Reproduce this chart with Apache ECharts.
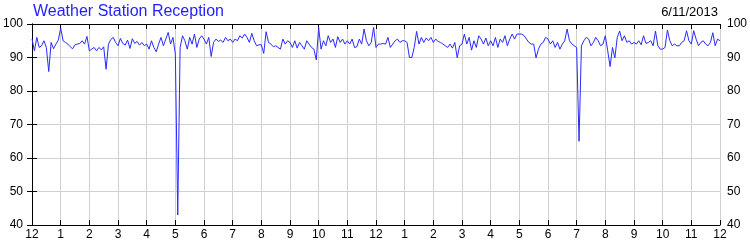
<!DOCTYPE html>
<html><head><meta charset="utf-8">
<script src="https://cdn.jsdelivr.net/npm/echarts@6/dist/echarts.min.js"></script>
<style>html,body{margin:0;padding:0;background:#fff}#c{width:750px;height:250px}</style>
</head><body><div id="c"></div>
<script>
// Reception % sampled every 5 minutes (12 per hour), midnight to midnight
const h00 = [95.5, 92, 96, 93, 93.5, 95, 93, 85.8, 94.5, 92.6, 94, 95.2];
const h01 = [98.8, 95, 94.5, 94, 93.2, 92.6, 93.8, 94, 94.2, 95, 94, 96.3];
const h02 = [92, 92.5, 93, 92, 93, 92.3, 93.2, 86.5, 94, 95.4, 96, 94.5];
const h03 = [93.5, 95.7, 94.2, 93.7, 95.2, 92.7, 95.6, 94.2, 94.8, 93.7, 94.5, 93.5];
const h04 = [94, 92.5, 95, 93, 91.7, 94, 96, 93.5, 95.5, 97.5, 94, 96];
const h05 = [91, 43, 93, 96.5, 95, 92.5, 96, 94, 97, 93, 95.5, 96.5];
const h06 = [95.5, 94, 96, 90.3, 94.5, 95.5, 94.8, 95.2, 94.5, 96, 95, 95.5];
const h07 = [94.5, 95.5, 95, 96.5, 95.8, 97, 96, 94.5, 97.2, 95, 93.5, 93.8];
const h08 = [93.8, 91.2, 97.7, 94.5, 94, 93.2, 93.5, 93, 92.5, 95.5, 94, 95];
const h09 = [94.5, 93, 95, 92.8, 94.5, 93.5, 92.5, 95, 94, 93, 92.5, 89.3];
const h10 = [98.9, 92.5, 95, 93.5, 96.5, 94.5, 95.5, 93, 96.2, 94.5, 95.5, 94];
const h11 = [95, 94, 95.5, 93, 93.2, 95.5, 94, 98.5, 95, 93.5, 94.5, 99];
const h12 = [93, 94, 94, 94.2, 94, 96, 93, 94, 95, 95.5, 94.5, 95];
const h13 = [95, 94.5, 90, 90, 93, 97.8, 94, 96, 94.5, 95.8, 95, 96];
const h14 = [94.5, 95.5, 94.8, 94.5, 94, 93.5, 93, 94, 92.8, 94.5, 89.9, 93.5];
const h15 = [94, 97, 94, 96, 92.2, 95, 93, 96.5, 95.5, 94, 95.8, 93.5];
const h16 = [95, 93.5, 96, 93, 95.5, 94.5, 96.5, 93.5, 95.5, 97, 95.5, 97];
const h17 = [97, 97, 96.5, 95.5, 94.5, 94, 94, 89.9, 92.5, 94, 94.5, 96];
const h18 = [95.5, 94, 95, 93, 94.5, 92.5, 94, 95, 98.5, 95, 94, 93.5];
const h19 = [93, 65, 93.5, 95, 96, 95.5, 93.5, 94.5, 96, 95, 93.5, 94];
const h20 = [96.5, 92, 87.3, 93, 89.9, 96, 97.9, 95, 96.5, 94.5, 95, 94];
const h21 = [94.5, 94, 95, 93.8, 96.5, 94.2, 94.5, 95, 93.5, 97.9, 93.5, 92.5];
const h22 = [92.5, 93, 98.2, 95, 93.5, 94, 93.5, 93.5, 94.5, 95, 98, 95];
const h23 = [94, 98, 95.5, 93.5, 94.5, 95, 94, 93.5, 94.5, 97.4, 93.5, 95.5];
const endValue = [95];

const hourLabels = ['12','1','2','3','4','5','6','7','8','9','10','11','12','1','2','3','4','5','6','7','8','9','10','11','12'];
const yTicks = [40, 50, 60, 70, 80, 90, 100];
const titleText = 'Weather Station Reception';
const dateText = '6/11/2013';

const values = [].concat(h00,h01,h02,h03,h04,h05,h06,h07,h08,h09,h10,h11,h12,h13,h14,h15,h16,h17,h18,h19,h20,h21,h22,h23,endValue);
const points = values.map((v, i) => [i * 5 / 60, v]);

const font = 'Liberation Sans, Arial, sans-serif';
const axisCommon = {
  axisLine: { show: true, lineStyle: { color: '#000', width: 1 } },
  axisTick: { show: true, inside: true, length: 5, lineStyle: { color: '#000' } },
};
const chart = echarts.init(document.getElementById('c'), null, { renderer: 'canvas' });
chart.setOption({
  animation: false,
  backgroundColor: '#fff',
  title: [
    { text: titleText, left: 33, top: 4, padding: 0, textStyle: { fontFamily: font, fontSize: 16, fontWeight: 'normal', color: '#1f1fff' } },
    { text: dateText, right: 32, top: 6, padding: 0, textStyle: { fontFamily: font, fontSize: 13, fontWeight: 'normal', color: '#000' } }
  ],
  grid: { left: 31, right: 30, top: 24, bottom: 25, containLabel: false },
  xAxis: [
    Object.assign({}, axisCommon, {
      type: 'value', min: 0, max: 24, interval: 1, position: 'bottom',
      axisLabel: { show: true, margin: 4, color: '#000', fontFamily: font, fontSize: 12, showMinLabel: true, showMaxLabel: true,
        formatter: v => hourLabels[Math.round(v)] },
      splitLine: { show: true, lineStyle: { color: '#d0d0d0', width: 1 } }
    }),
    Object.assign({}, axisCommon, {
      type: 'value', min: 0, max: 24, interval: 1, position: 'top',
      axisLabel: { show: false }, splitLine: { show: false }
    })
  ],
  yAxis: [
    Object.assign({}, axisCommon, {
      type: 'value', min: yTicks[0], max: yTicks[yTicks.length - 1], interval: 10, position: 'left',
      axisLabel: { margin: 9, color: '#000', fontFamily: font, fontSize: 12 },
      splitLine: { show: true, lineStyle: { color: '#d0d0d0', width: 1 } }
    }),
    Object.assign({}, axisCommon, {
      type: 'value', min: yTicks[0], max: yTicks[yTicks.length - 1], interval: 10, position: 'right',
      axisLabel: { margin: 7, color: '#000', fontFamily: font, fontSize: 12 },
      splitLine: { show: false }
    })
  ],
  series: [{
    type: 'line', data: points, xAxisIndex: 0, yAxisIndex: 0,
    showSymbol: false, symbol: 'none',
    lineStyle: { color: '#2a2aff', width: 1 },
    itemStyle: { color: '#2a2aff' }
  }]
});
</script></body></html>
